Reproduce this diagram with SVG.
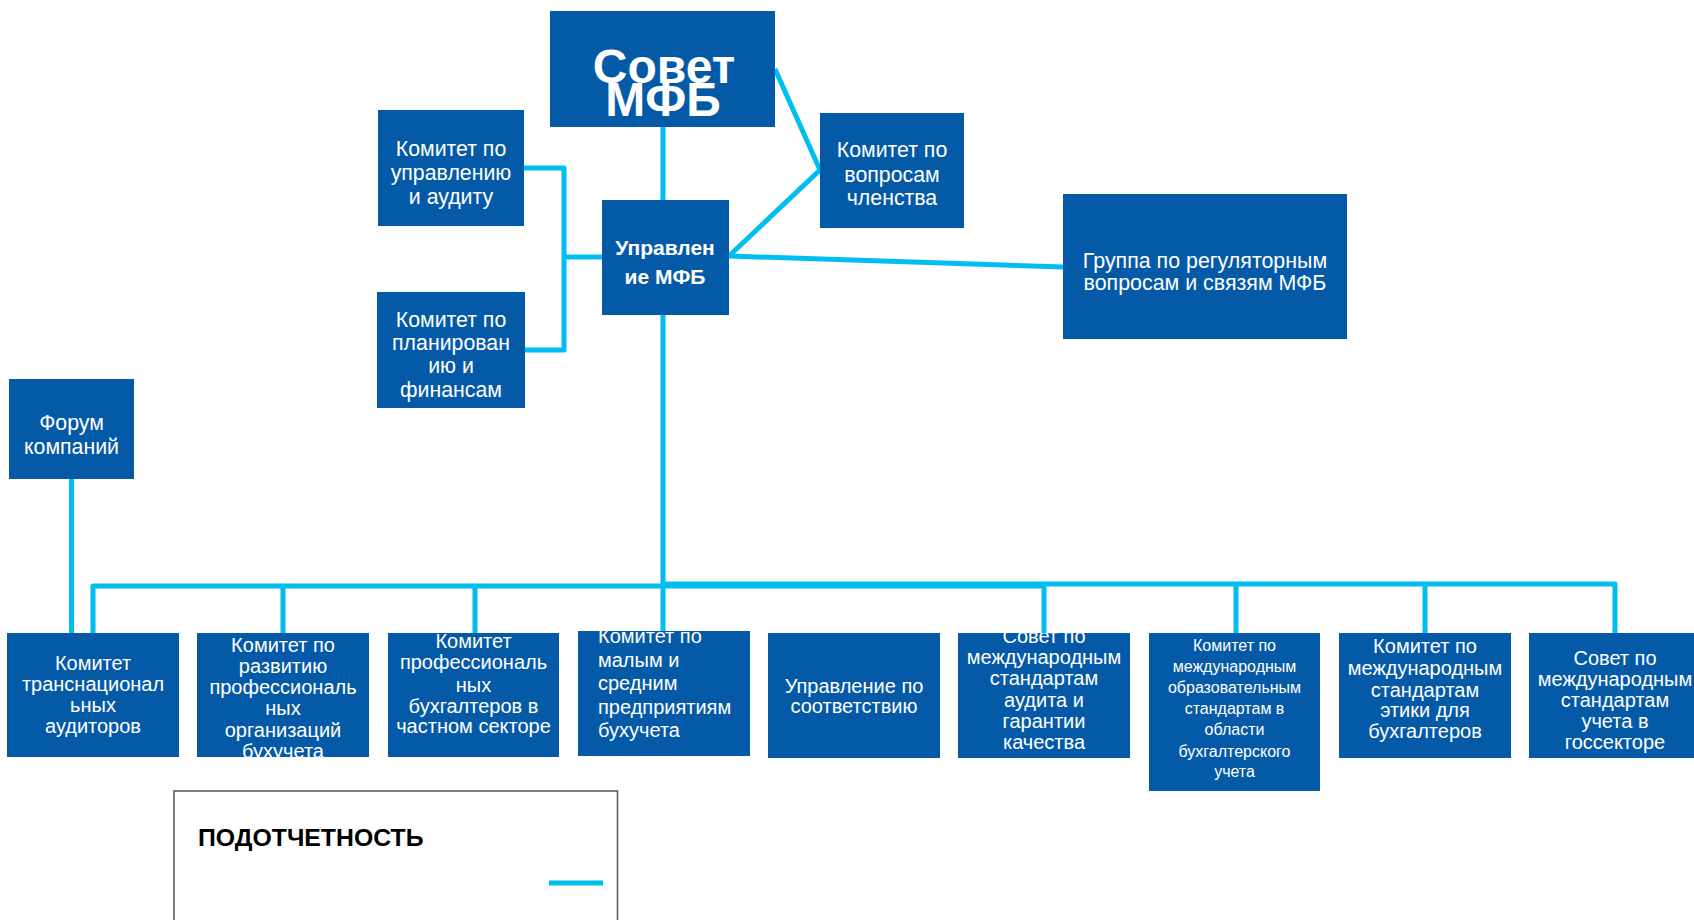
<svg xmlns="http://www.w3.org/2000/svg" width="1694" height="920" viewBox="0 0 1694 920">
<style>
.box{fill:#055AA8}
.t{font-family:"Liberation Sans",Arial,sans-serif;font-size:20px;fill:#fff;text-anchor:middle}
.m{font-size:21.3px}
.b{font-weight:bold}
.s{font-size:16px}
.l{text-anchor:start}
.c{fill:none;stroke:#00BFF0;stroke-width:5;stroke-linejoin:round}
</style>
<defs>
<clipPath id="cp2"><rect x="197" y="633" width="172" height="124"/></clipPath>
<clipPath id="cp4"><rect x="578" y="631" width="172" height="125"/></clipPath>
<clipPath id="cp6"><rect x="958" y="633" width="172" height="125"/></clipPath>
</defs>
<rect width="1694" height="920" fill="#fff"/>
<g id="connectors">
<path class="c" d="M663 127V200"/>
<path class="c" d="M524 168H564V350H524M564 257H602"/>
<path class="c" d="M775 69L820 170L729 256"/>
<path class="c" d="M729 256L1063 267"/>
<path class="c" d="M663 315V631"/>
<path class="c" d="M93 633V586H1044V633M283 586V633M475 586V633"/>
<path class="c" d="M663 584H1615V633M1236 584V633M1425 584V633"/>
<path class="c" d="M71.5 479V633"/>
</g>
<g id="n-sovet">
<rect class="box" x="550" y="11" width="225" height="116"/>
<text class="t b" x="664" y="83" style="font-size:48px">Совет</text>
<text class="t b" x="663" y="116" style="font-size:48px">МФБ</text>
</g>
<g id="n-upravlenie">
<rect class="box" x="602" y="200" width="127" height="115"/>
<text class="t b" x="665" y="255" style="font-size:21px">Управлен</text>
<text class="t b" x="665" y="284" style="font-size:21px">ие МФБ</text>
</g>
<g id="n-audit">
<rect class="box" x="378" y="110" width="146" height="116"/>
<text class="t m" x="451" y="156">Комитет по</text>
<text class="t m" x="451" y="180">управлению</text>
<text class="t m" x="451" y="203.5">и аудиту</text>
</g>
<g id="n-plan">
<rect class="box" x="377" y="292" width="148" height="116"/>
<text class="t m" x="451" y="326.5">Комитет по</text>
<text class="t m" x="451" y="350">планирован</text>
<text class="t m" x="451" y="373.3">ию и</text>
<text class="t m" x="451" y="396.7">финансам</text>
</g>
<g id="n-member">
<rect class="box" x="820" y="113" width="144" height="115"/>
<text class="t m" x="892" y="157">Комитет по</text>
<text class="t m" x="892" y="181.5">вопросам</text>
<text class="t m" x="892" y="205">членства</text>
</g>
<g id="n-group">
<rect class="box" x="1063" y="194" width="284" height="145"/>
<text class="t" x="1205" y="268" style="font-size:21.4px">Группа по регуляторным</text>
<text class="t" x="1205" y="290" style="font-size:21.4px">вопросам и связям МФБ</text>
</g>
<g id="n-forum">
<rect class="box" x="9" y="379" width="125" height="100"/>
<text class="t m" x="71.5" y="430">Форум</text>
<text class="t m" x="71.5" y="454">компаний</text>
</g>
<g id="n-b1">
<rect class="box" x="7" y="633" width="172" height="124"/>
<text class="t" x="93" y="670">Комитет</text>
<text class="t" x="93" y="691">транснационал</text>
<text class="t" x="93" y="711.7">ьных</text>
<text class="t" x="93" y="732.7">аудиторов</text>
</g>
<g id="n-b2">
<rect class="box" x="197" y="633" width="172" height="124"/>
<g clip-path="url(#cp2)">
<text class="t" x="283" y="651.7">Комитет по</text>
<text class="t" x="283" y="672.7">развитию</text>
<text class="t" x="283" y="694.3">профессиональ</text>
<text class="t" x="283" y="715">ных</text>
<text class="t" x="283" y="736.7">организаций</text>
<text class="t" x="283" y="757.5">бухучета</text>
</g>
</g>
<g id="n-b3">
<rect class="box" x="388" y="633" width="171" height="124"/>
<text class="t" x="473.5" y="648">Комитет</text>
<text class="t" x="473.5" y="669">профессиональ</text>
<text class="t" x="473.5" y="691.7">ных</text>
<text class="t" x="473.5" y="712.7">бухгалтеров в</text>
<text class="t" x="473.5" y="733">частном секторе</text>
</g>
<g id="n-b4">
<rect class="box" x="578" y="631" width="172" height="125"/>
<g clip-path="url(#cp4)">
<text class="t l" x="598" y="643.3">Комитет по</text>
<text class="t l" x="598" y="666.7">малым и</text>
<text class="t l" x="598" y="690.3">средним</text>
<text class="t l" x="598" y="713.5">предприятиям</text>
<text class="t l" x="598" y="737">бухучета</text>
</g>
</g>
<g id="n-b5">
<rect class="box" x="768" y="633" width="172" height="125"/>
<text class="t" x="854" y="692.7">Управление по</text>
<text class="t" x="854" y="712.7">соответствию</text>
</g>
<g id="n-b6">
<rect class="box" x="958" y="633" width="172" height="125"/>
<g clip-path="url(#cp6)">
<text class="t" x="1044" y="643">Совет по</text>
<text class="t" x="1044" y="664">международным</text>
<text class="t" x="1044" y="685.3">стандартам</text>
<text class="t" x="1044" y="706.7">аудита и</text>
<text class="t" x="1044" y="728">гарантии</text>
<text class="t" x="1044" y="749">качества</text>
</g>
</g>
<g id="n-b7">
<rect class="box" x="1149" y="633" width="171" height="158"/>
<text class="t s" x="1234.5" y="650.7">Комитет по</text>
<text class="t s" x="1234.5" y="671.7">международным</text>
<text class="t s" x="1234.5" y="692.7">образовательным</text>
<text class="t s" x="1234.5" y="714">стандартам в</text>
<text class="t s" x="1234.5" y="735">области</text>
<text class="t s" x="1234.5" y="756.5">бухгалтерского</text>
<text class="t s" x="1234.5" y="777.3">учета</text>
</g>
<g id="n-b8">
<rect class="box" x="1339" y="633" width="172" height="125"/>
<text class="t" x="1425" y="653">Комитет по</text>
<text class="t" x="1425" y="675">международным</text>
<text class="t" x="1425" y="696.7">стандартам</text>
<text class="t" x="1425" y="717">этики для</text>
<text class="t" x="1425" y="738">бухгалтеров</text>
</g>
<g id="n-b9">
<rect class="box" x="1529" y="633" width="172" height="125"/>
<text class="t" x="1615" y="665">Совет по</text>
<text class="t" x="1615" y="686">международным</text>
<text class="t" x="1615" y="706.7">стандартам</text>
<text class="t" x="1615" y="728">учета в</text>
<text class="t" x="1615" y="749">госсекторе</text>
</g>
<g id="legend">
<rect x="174" y="791" width="443.5" height="140" fill="#fff" stroke="#555" stroke-width="1.5"/>
<text x="198" y="846" style="font-family:'Liberation Sans',Arial,sans-serif;font-size:24.8px;font-weight:bold;fill:#000">ПОДОТЧЕТНОСТЬ</text>
<path d="M549 883H603" stroke="#00BFF0" stroke-width="5"/>
</g>
</svg>
